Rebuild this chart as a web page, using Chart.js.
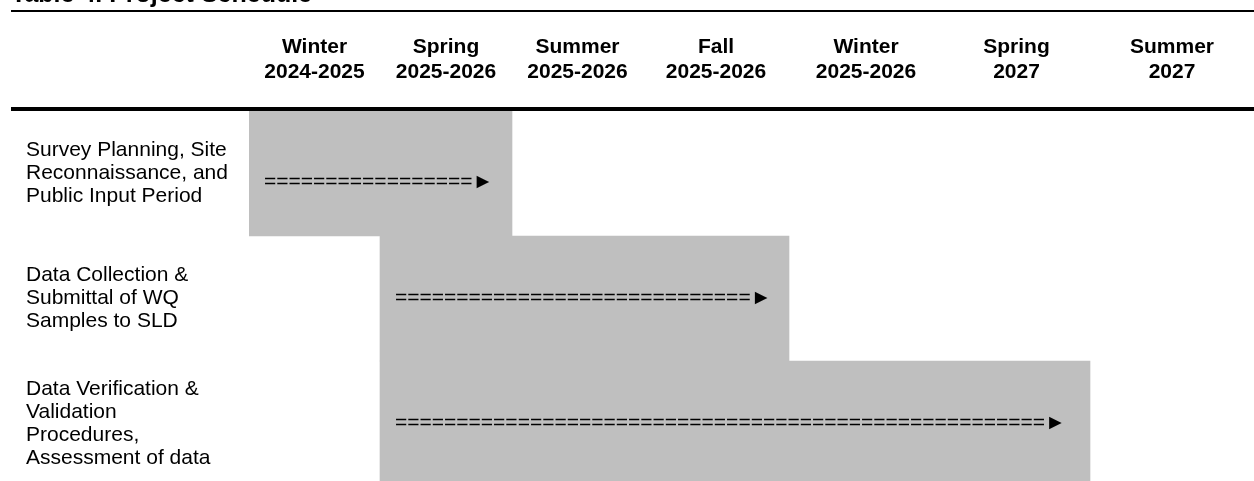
<!DOCTYPE html>
<html>
<head>
<meta charset="utf-8">
<title>Table 4. Project Schedule</title>
<script src="https://cdn.jsdelivr.net/npm/chart.js@4.4.1/dist/chart.umd.min.js"></script>
<style>
  html, body { margin: 0; padding: 0; background: #fff; overflow: hidden; }
  #wrap { position: relative; width: 1254px; height: 490px; }
</style>
</head>
<body>
<div id="wrap"><canvas id="schedule"></canvas></div>
<script>
// Table 4: project schedule, one grey block per task across the season columns
const caption = 'Table 4. Project Schedule';

const seasons = [
  ['Winter', '2024-2025'],
  ['Spring', '2025-2026'],
  ['Summer', '2025-2026'],
  ['Fall', '2025-2026'],
  ['Winter', '2025-2026'],
  ['Spring', '2027'],
  ['Summer', '2027']
];

const tasks = [
  ['Survey Planning, Site', 'Reconnaissance, and', 'Public Input Period'],
  ['Data Collection &', 'Submittal of WQ', 'Samples to SLD'],
  ['Data Verification &', 'Validation', 'Procedures,', 'Assessment of data']
];

// season column where each task starts / ends (end is exclusive)
const startCol = [0, 1, 1];
const endCol = [2, 4, 6];

const arrows = [
  '=================►',
  '=============================►',
  '=====================================================►'
];

// layout only: the table columns are not all equally wide
const colWidths = [131, 132, 131, 146, 154, 147, 164];
const arrowShift = [9, 0, 0];
const FONT = '"Liberation Sans", Arial, sans-serif';

// linear scale that maps column indexes onto the uneven table columns
class ColumnScale extends Chart.LinearScale {
  getPixelForValue(value) {
    if (value === null || value === undefined || isNaN(value)) return NaN;
    const total = colWidths.reduce((a, b) => a + b, 0);
    const i = Math.max(0, Math.min(colWidths.length - 1, Math.floor(value)));
    let acc = 0;
    for (let k = 0; k < i; k++) acc += colWidths[k];
    acc += (value - i) * colWidths[i];
    return this.getPixelForDecimal(acc / total);
  }
}
ColumnScale.id = 'column';
ColumnScale.defaults = {};
Chart.register(ColumnScale);

const tableDecor = {
  id: 'tableDecor',
  afterDraw(chart) {
    const { ctx, chartArea, scales } = chart;
    const left = 11;
    const right = chart.width;
    ctx.save();
    ctx.fillStyle = '#000';
    // caption sits mostly above the page edge
    ctx.font = 'bold 25px ' + FONT;
    ctx.textBaseline = 'alphabetic';
    ctx.textAlign = 'left';
    ctx.fillText(caption, left, scales.x.top + 2);
    ctx.fillRect(left, scales.x.top + 10, right - left, 2);
    ctx.fillRect(left, chartArea.top - 4, right - left, 4);

    // arrow text inside each block
    ctx.font = '21px ' + FONT;
    ctx.textBaseline = 'middle';
    chart.getDatasetMeta(0).data.forEach((bar, i) => {
      const x0 = Math.min(bar.base, bar.x);
      ctx.fillText(arrows[i], x0 + 15, bar.y + arrowShift[i]);
    });
    ctx.restore();
  }
};

new Chart(document.getElementById('schedule'), {
  type: 'bar',
  data: {
    labels: tasks,
    datasets: [{
      label: 'Schedule',
      data: startCol.map((s, i) => [s, endCol[i]]),
      backgroundColor: '#bfbfbf',
      borderWidth: 0,
      borderSkipped: false,
      barPercentage: 1,
      categoryPercentage: 1
    }]
  },
  options: {
    indexAxis: 'y',
    responsive: true,
    maintainAspectRatio: false,
    animation: false,
    layout: { padding: { left: 26, right: 0, top: 0, bottom: 4 } },
    plugins: {
      legend: { display: false },
      tooltip: { enabled: false },
      title: { display: false }
    },
    scales: {
      x: {
        type: 'column',
        position: 'top',
        min: 0,
        max: seasons.length,
        grid: { display: false, drawTicks: false },
        border: { display: false },
        afterBuildTicks: (scale) => {
          scale.ticks = seasons.map((s, i) => ({ value: i + 0.5 }));
        },
        afterFit: (scale) => {
          scale.height = 111;
          scale.paddingLeft = 0;
          scale.paddingRight = 0;
        },
        ticks: {
          autoSkip: false,
          maxRotation: 0,
          minRotation: 0,
          padding: 26,
          color: '#000',
          font: { family: FONT, size: 21, weight: 'bold', lineHeight: 25 / 21 },
          callback: (value, index) => seasons[index]
        }
      },
      y: {
        position: 'left',
        grid: { display: false, drawTicks: false },
        border: { display: false },
        afterFit: (scale) => {
          scale.width = 223;
          scale.paddingTop = 0;
          scale.paddingBottom = 0;
        },
        ticks: {
          crossAlign: 'far',
          padding: 0,
          color: '#000',
          font: { family: FONT, size: 21, lineHeight: 23 / 21 }
        }
      }
    }
  },
  plugins: [tableDecor]
});
</script>
</body>
</html>
